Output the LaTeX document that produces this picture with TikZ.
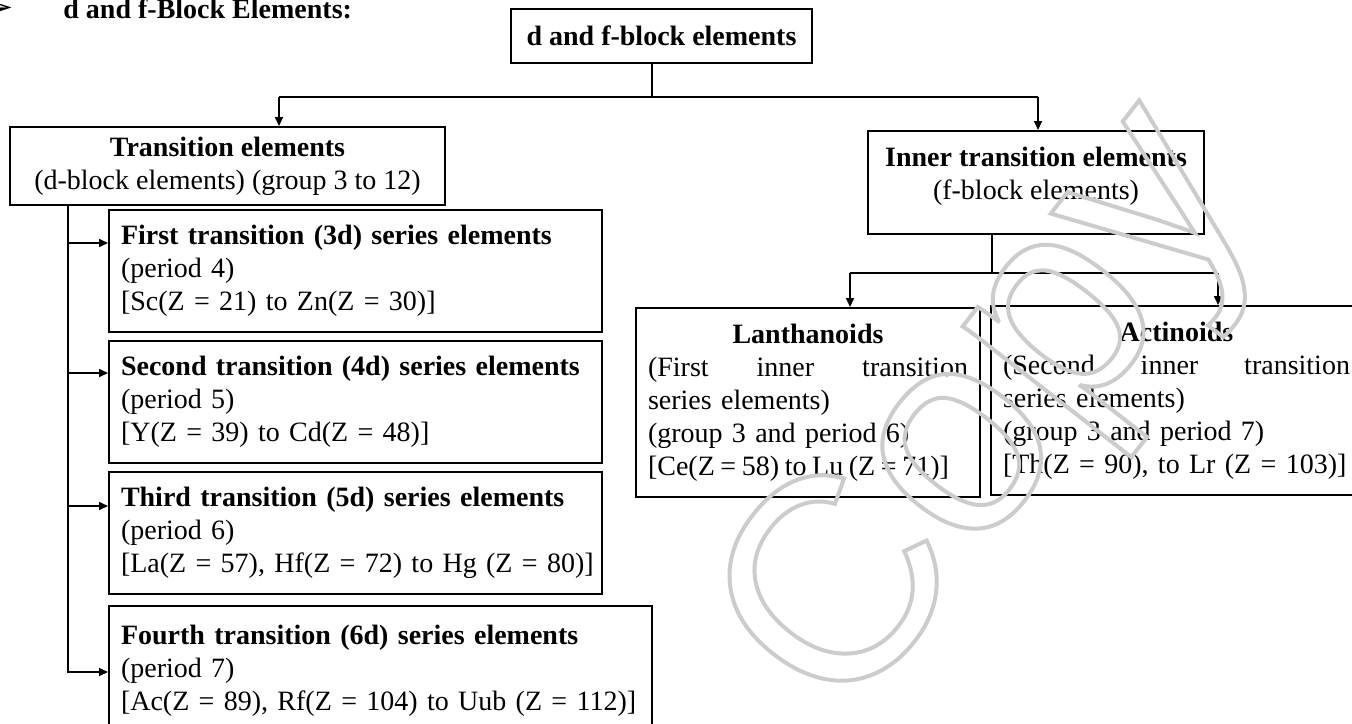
\documentclass[tikz,border=0pt]{standalone}
\usepackage{fontspec}
\setmainfont{Liberation Serif}
\newfontfamily\dingfont{DejaVu Sans}
\newfontfamily\markfont{Liberation Sans}
\usetikzlibrary{arrows.meta}

\begin{document}
\begin{tikzpicture}[x=0.5pt,y=-0.5pt,font=\fontsize{14}{16.5}\selectfont,
    box/.style={draw,line width=1pt,inner sep=0pt},
    leftbox/.style={box,align=left,inner xsep=6pt,text width=#1},
    link/.style={line width=0.8pt},
    arr/.style={link,-{Triangle[length=4.5pt,width=4pt]}}]
    \useasboundingbox (0,0) rectangle (1352,723);
    \node[anchor=east,inner sep=0pt] (bullet) at (14,10) {\dingfont\fontsize{20}{20}\selectfont ➢};
    \node[anchor=base west,inner sep=0pt] (title) at (63,18) {\textbf{d and f-Block Elements:}};
    \node[box,minimum width=150.5pt,minimum height=27pt] (top) at (661.5,36) {\textbf{d and f-block elements}};
    \node[box,align=center,minimum width=217.5pt,minimum height=39pt] (trans) at (227.5,166) {\textbf{Transition elements}\\(d-block elements) (group 3 to 12)};
    \node[box,align=center,minimum width=168pt,minimum height=51.5pt,text depth=9pt] (inner) at (1036,182.5) {\textbf{Inner transition elements}\\(f-block elements)};
    \node[leftbox=234.5pt,minimum height=61pt] (s1) at (355.5,271) {\mbox{\textbf{First transition (3d) series elements}}\\(period 4)\\{}\mbox{[Sc(Z = 21) to Zn(Z = 30)]}};
    \node[leftbox=234.5pt,minimum height=61pt] (s2) at (355.5,402) {\mbox{\textbf{Second transition (4d) series elements}}\\(period 5)\\{}\mbox{[Y(Z = 39) to Cd(Z = 48)]}};
    \node[leftbox=234.5pt,minimum height=61pt] (s3) at (355.5,533) {\mbox{\textbf{Third transition (5d) series elements}}\\(period 6)\\{}\mbox{[La(Z = 57), Hf(Z = 72) to Hg (Z = 80)]}};
    \node[leftbox=259.5pt,minimum height=64.5pt] (s4) at (380.5,670.5) {\mbox{\textbf{Fourth transition (6d) series elements}}\\(period 7)\\{}\mbox{[Ac(Z = 89), Rf(Z = 104) to Uub (Z = 112)]}};
    \node[leftbox=160pt,minimum height=94.5pt] (lanth) at (808,402.5) {\hfill\textbf{Lanthanoids}\hfill\null\\(First\hfill inner\hfill transition\\series elements)\\(group 3 and period 6)\\{}\mbox{\spaceskip=0.2em [Ce(Z = 58) to Lu (Z = 71)]}};
    \node[leftbox=173.5pt,minimum height=94.5pt] (actin) at (1176.5,400.5) {\hfill\textbf{Actinoids}\hfill\null\\(Second\hfill inner\hfill transition\\series elements)\\(group 3 and period 7)\\{}\mbox{[Th(Z = 90), to Lr (Z = 103)]}};

    \coordinate (a) at (652,97);
    \coordinate (b) at (279,97);
    \coordinate (c) at (1038,97);
    \draw[link] (top.south -| a) -- (a);
    \draw[link] (b) -- (c);
    \draw[arr] (b) -- (b |- trans.north);
    \draw[arr] (c) -- (c |- inner.north);

    \coordinate (d) at (68,672);
    \draw[arr] (trans.south -| d) -- (d) -- (d -| s4.west);
    \foreach \n/\y in {s1/243,s2/373,s3/506}{
        \coordinate (t\n) at (68,\y);
        \draw[arr] (t\n) -- (t\n -| \n.west);
    }

    \coordinate (e) at (992,273);
    \coordinate (f) at (850,273);
    \coordinate (g) at (1218,273);
    \draw[link] (inner.south -| e) -- (e);
    \draw[link] (f) -- (g);
    \draw[arr] (f) -- (f |- lanth.north);
    \draw[arr] (g) -- (g |- actin.north);

    \node[rotate=52,inner sep=0pt] (mark) at (996,417) {\markfont\fontsize{145}{145}\selectfont\special{pdf:literal direct 1 Tr 2 w 0.8 0.8 0.8 RG}Copy};
\end{tikzpicture}
\end{document}
